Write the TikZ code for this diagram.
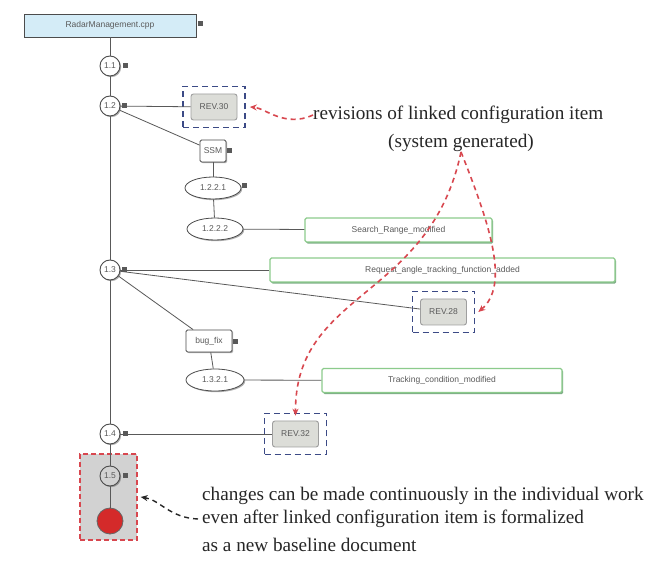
\documentclass[tikz,border=0pt]{standalone}
\usepackage{fontspec}
\setmainfont{Liberation Serif}
\newfontfamily\labsans{Liberation Sans}
\usetikzlibrary{shapes.geometric,arrows.meta,calc,shadows}
\definecolor{notegreen}{HTML}{8CCB8C}
\definecolor{notedark}{HTML}{5E9A6A}
\definecolor{topblue}{HTML}{D4ECF7}
\definecolor{revfill}{HTML}{DCDDD8}
\definecolor{frameblue}{HTML}{3C4A86}
\definecolor{redline}{HTML}{D8474F}
\definecolor{dotred}{HTML}{D42A2A}
\definecolor{boxgray}{HTML}{D2D2D2}
\definecolor{txtgray}{HTML}{5A5A5A}
\tikzset{
  lab/.style={font=\labsans\fontsize{8.5}{9}\selectfont, text=txtgray},
  shad/.style={drop shadow={shadow xshift=1.2pt, shadow yshift=-1.2pt, opacity=0.45, fill=black!70}},
  ver/.style={circle, draw=black!70, fill=white, minimum size=20pt, inner sep=0pt, line width=0.9pt, lab, shad},
  filebox/.style={rectangle, draw=black!70, fill=white, rounded corners=1.5pt, minimum height=22pt, inner sep=0pt, line width=0.8pt, lab, shad},
  elli/.style={ellipse, draw=black!70, fill=white, minimum width=56pt, minimum height=22pt, inner sep=0pt, line width=0.8pt, lab, shad},
  notebox/.style={rectangle, draw=notegreen, fill=white, rounded corners=1.5pt, minimum height=24pt, inner sep=0pt, line width=1.2pt, lab, drop shadow={shadow xshift=1.2pt, shadow yshift=-1.6pt, opacity=0.8, fill=notedark}},
  revbox/.style={rectangle, draw=gray!75, fill=revfill, rounded corners=2.5pt, minimum width=46pt, minimum height=26pt, inner sep=0pt, line width=0.9pt, lab},
  revframe/.style={rectangle, draw=frameblue, dash pattern=on 6pt off 4pt, line width=1.6pt, minimum width=62pt, minimum height=41pt, inner sep=0pt},
  handle/.style={rectangle, fill=black!65, minimum size=5pt, inner sep=0pt},
  link/.style={draw=black!65, line width=0.8pt},
  redarrow/.style={draw=redline, dash pattern=on 5pt off 4pt, line width=1.6pt, -{Stealth[length=7pt,width=6pt]}},
  blackarrow/.style={draw=black!85, dash pattern=on 5pt off 4pt, line width=1.4pt, -{Stealth[length=7pt,width=6pt]}},
  note/.style={font=\fontsize{19.2}{21}\selectfont, text=black!85, inner sep=0pt, anchor=west}
}
\begin{document}
\begin{tikzpicture}[x=1pt,y=-1pt]
\useasboundingbox[fill=white] (0,0) rectangle (662,561);
% frames behind
\node[revframe] (revf1) at (214,107) {};
\node[revframe] (revf2) at (443.5,312) {};
\node[revframe] (revf3) at (295.5,434) {};
\node[rectangle, draw=redline, fill=boxgray, dash pattern=on 5pt off 3pt, line width=1.4pt, minimum width=57pt, minimum height=86pt, inner sep=0pt] (redbox) at (108.5,497) {};
% nodes
\node[rectangle, draw=black!70, fill=topblue, minimum width=172pt, minimum height=23pt, inner sep=0pt, line width=0.8pt, lab, shad] (top) at (110,25.5) {RadarManagement.cpp};
\node[ver] (v1) at (110,66) {1.1};
\node[ver] (v2) at (110,106) {1.2};
\node[ver] (v3) at (110,270) {1.3};
\node[ver] (v4) at (110,434) {1.4};
\node[ver, fill=boxgray] (v5) at (110,476) {1.5};
\node[circle, draw=black!60, fill=dotred, minimum size=26pt, inner sep=0pt, line width=0.8pt] (dot) at (110,521) {};
\node[revbox] (rev1) at (214,107) {REV.30};
\node[revbox] (rev2) at (443.5,312) {REV.28};
\node[revbox] (rev3) at (295.5,434) {REV.32};
\node[filebox, minimum width=26pt] (ssm) at (213,151) {SSM};
\node[elli] (e1) at (213,188) {1.2.2.1};
\node[elli] (e2) at (215,229) {1.2.2.2};
\node[notebox, minimum width=187pt] (search) at (398.5,230) {Search\_Range\_modified};
\node[notebox, minimum width=345pt] (request) at (442.5,270) {Request\_angle\_tracking\_function\_added};
\node[filebox, minimum width=46pt] (bug) at (209,341) {bug\_fix};
\node[elli, minimum width=58pt] (e3) at (215,380) {1.3.2.1};
\node[notebox, minimum width=240pt] (track) at (442,380.5) {Tracking\_condition\_modified};
% handles
\node[handle] (h0) at (200,24) {};
\node[handle] (h1) at (125,66) {};
\node[handle] (h2) at (124,106) {};
\node[handle] (h3) at (124,270) {};
\node[handle] (h4) at (125,434) {};
\node[handle] (h5) at (125,476) {};
\node[handle] (hs) at (229,151) {};
\node[handle] (he) at (244,186) {};
\node[handle] (hb) at (235,342) {};
% links
\draw[link] (top) -- (v1);
\draw[link] (v1) -- (v2);
\draw[link] (v2) -- (v3);
\draw[link] (v3) -- (v4);
\draw[link] (v4) -- (v5);
\draw[link] (v5) -- (dot);
\draw[link] (v2) -- (rev1);
\draw[link] (v2) -- (ssm);
\draw[link] (ssm) -- (e1);
\draw[link] (e1) -- (e2);
\draw[link] (e2) -- (search);
\draw[link] (v3) -- (request);
\draw[link] (v3) -- (rev2);
\draw[link] (v3) -- (bug);
\draw[link] (bug) -- (e3);
\draw[link] (e3) -- (track);
\draw[link] (v4) -- (rev3);
% annotations
\node[note] (t1) at (313,115) {revisions of linked configuration item};
\node[note, anchor=center] (t2) at (461,143) {(system generated)};
\node[note] (b1) at (202,496) {changes can be made continuously in the individual work};
\node[note] (b2) at (202,519) {even after linked configuration item is formalized};
\node[note] (b3) at (202,545) {as a new baseline document};
% arrows
\draw[redarrow] (t1.west) .. controls (285,128) and (265,108) .. ([xshift=4pt]revf1.east);
\draw[redarrow] (t2.south) .. controls (490,225) and (510,285) .. ([xshift=3pt]revf2.east);
\draw[redarrow] (t2.south) .. controls (430,300) and (295,290) .. ([yshift=-3pt]revf3.north);
\draw[blackarrow] ([xshift=-4pt]b2.west) .. controls (170,518) and (160,500) .. ([xshift=3pt]redbox.east);
\end{tikzpicture}
\end{document}
